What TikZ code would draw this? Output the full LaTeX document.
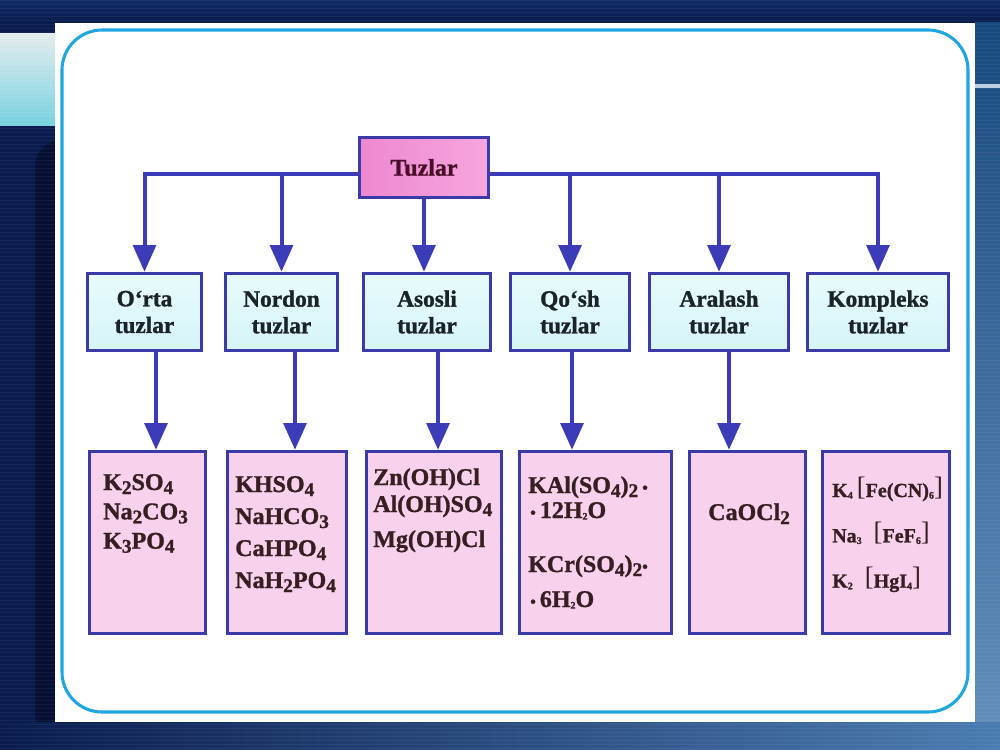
\documentclass[tikz,border=0pt]{standalone}
\usepackage{fontspec}
\setmainfont{Liberation Serif}[BoldFeatures={FakeBold=1.2}]
\usetikzlibrary{arrows.meta,calc}
\pgfdeclarelayer{back}
\pgfdeclarelayer{conn}
\pgfsetlayers{back,conn,main}
\definecolor{navy}{HTML}{0A1C4E}
\definecolor{navydark}{HTML}{060F34}
\definecolor{bandblue}{HTML}{0E2A66}
\definecolor{sideblue}{HTML}{1E5C9E}
\definecolor{frame}{HTML}{1EA6E0}
\definecolor{boxline}{HTML}{3A3AA8}
\definecolor{arrowblue}{HTML}{3C3CB8}
\definecolor{midfill}{HTML}{D6F4F8}
\definecolor{midfilltop}{HTML}{E8FBFC}
\definecolor{botfill}{HTML}{F8D2EC}
\definecolor{tzfillA}{HTML}{EE88D0}
\definecolor{tzfillB}{HTML}{F6A6DE}
\definecolor{midtext}{HTML}{1A2428}
\definecolor{bottext}{HTML}{361E22}
\definecolor{tztext}{HTML}{4A0E2A}
\definecolor{stripA}{HTML}{E4ECEE}
\definecolor{stripB}{HTML}{78D2E0}
\newcommand\chs[1]{\raisebox{-3pt}{\fontsize{14.5}{14.5}\selectfont #1}}
\newcommand\chst[1]{\raisebox{-1.2pt}{\fontsize{7.5}{7.5}\selectfont #1}}
\newcommand\brk[1]{\raisebox{1.5pt}{\fontsize{20}{20}\selectfont\mdseries #1}}
\newcommand\bul{{\fontsize{12}{12}\selectfont •}}
\begin{document}
\begin{tikzpicture}[x=0.75pt,y=-0.75pt,
  arr/.style={draw=arrowblue,line width=3pt,-{Triangle[width=17pt,length=20pt]}},
  midbox/.style={draw=boxline,line width=2.6pt,top color=midfilltop,bottom color=midfill,
    minimum height=57.75pt,align=center,text=midtext,
    font=\fontsize{17.5}{20}\selectfont\bfseries},
  botbox/.style={draw=boxline,line width=2.6pt,fill=botfill,minimum height=136.5pt},
  chem/.style={inner sep=0pt,anchor=base west,text=bottext},
  tzbox/.style={draw=boxline,line width=2.6pt,left color=tzfillA,right color=tzfillB,
    minimum width=96.75pt,minimum height=45pt,text=tztext,
    font=\fontsize{18}{20}\selectfont\bfseries}]
\useasboundingbox (0,0) rectangle (1000,750);
% ---------- background ----------
\begin{pgfonlayer}{back}
\fill[navy] (0,0) rectangle (1000,750);
\fill[top color=bandblue,bottom color=navy] (0,0) rectangle (1000,22);
\fill[top color=stripA,bottom color=stripB] (0,33) rectangle (55,125);
\fill[navydark,rounded corners=20pt] (35,140) rectangle (80,740);
\fill[top color=sideblue!80!black,bottom color=sideblue!70!white] (975,22) rectangle (1000,722);
\fill[white!70!sideblue] (975,84) rectangle (1000,88);
\fill[left color=navy,right color=sideblue!80!white] (0,722) rectangle (1000,750);
\foreach \yy in {0,4,...,748} \draw[white,opacity=0.05,line width=0.6pt] (0,\yy) -- (1000,\yy);
\fill[white] (55,23) rectangle (975,722);
\draw[frame,line width=2.3pt,rounded corners=30pt] (62,30) rectangle (968,712);
\end{pgfonlayer}
% ---------- nodes ----------
\node[tzbox] (tz) at (424,167.5) {Tuzlar};
\coordinate (bus) at (424,174);
\node[midbox,minimum width=85.5pt]  (m1) at (144.5,312) {O‘rta\\tuzlar};
\node[midbox,minimum width=84pt]    (m2) at (281.5,312) {Nordon\\tuzlar};
\node[midbox,minimum width=95.25pt] (m3) at (427,312)   {Asosli\\tuzlar};
\node[midbox,minimum width=89.25pt] (m4) at (570,312)   {Qo‘sh\\tuzlar};
\node[midbox,minimum width=104.25pt](m5) at (719,312)   {Aralash\\tuzlar};
\node[midbox,minimum width=105.75pt](m6) at (878,312)   {Kompleks\\tuzlar};
\node[botbox,minimum width=87pt]    (b1) at (147.5,542.5) {};
\node[botbox,minimum width=89.25pt] (b2) at (287,542.5) {};
\node[botbox,minimum width=101.25pt](b3) at (434,542.5) {};
\node[botbox,minimum width=114pt]   (b4) at (595.5,542.5) {};
\node[botbox,minimum width=87pt]    (b5) at (747.5,542.5) {};
\node[botbox,minimum width=95.25pt] (b6) at (886,542.5) {};
% ---------- texts in the lower boxes ----------
\node[chem] (t1) at (103,490) {\fontsize{18}{22}\selectfont\bfseries
  \begin{tabular}[t]{@{}l@{}}K\chs{2}SO\chs{4}\\Na\chs{2}CO\chs{3}\\K\chs{3}PO\chs{4}\end{tabular}};
\node[chem] (t2) at (235,492) {\fontsize{18}{24}\selectfont\bfseries
  \begin{tabular}[t]{@{}l@{}}KHSO\chs{4}\\NaHCO\chs{3}\\CaHPO\chs{4}\\NaH\chs{2}PO\chs{4}\end{tabular}};
\node[chem] (t3) at (373,485) {\fontsize{18}{20.25}\selectfont\bfseries
  \begin{tabular}[t]{@{}l@{}}Zn(OH)Cl\\Al(OH)SO\chs{4}\\[6pt]Mg(OH)Cl\end{tabular}};
\node[chem] (t4) at (528,493) {\fontsize{18}{18.75}\selectfont\bfseries
  \begin{tabular}[t]{@{}l@{}}KAl(SO\chs{4})\chs{2}\,\bul\\
  \hspace{1.5pt}\bul\,12H\chst{2}O\\[21.75pt]
  KCr(SO\chs{4})\chs{2}\bul\\[7.5pt]
  \hspace{1.5pt}\bul\,6H\chst{2}O\end{tabular}};
\node[chem] (t5) at (708,520) {\fontsize{18}{22}\selectfont\bfseries CaOCl\chs{2}};
\node[chem] (t6) at (832,497) {\fontsize{15}{34}\selectfont\bfseries
  \begin{tabular}[t]{@{}l@{}}K\chst{4}\hspace{3pt}\brk{[}Fe(CN)\chst{6}\brk{]}\\
  Na\chst{3}\hspace{9pt}\brk{[}FeF\chst{6}\brk{]}\\
  K\chst{2}\hspace{9pt}\brk{[}HgI\chst{4}\brk{]}\end{tabular}};
% ---------- connectors ----------
\begin{pgfonlayer}{conn}
\draw[arr] (tz.west |- bus) -| (m1.north);
\draw[arr] (tz.east |- bus) -| (m6.north);
\draw[arr] (bus -| m2.north) -- (m2.north);
\draw[arr] (bus -| m4.north) -- (m4.north);
\draw[arr] (bus -| m5.north) -- (m5.north);
\draw[arr] (tz.south) -- (tz.south |- m3.north);
\draw[arr] (m1.south) ++(11.5,0) coordinate (s1) -- (s1 |- b1.north);
\draw[arr] (m2.south) ++(13.5,0) coordinate (s2) -- (s2 |- b2.north);
\draw[arr] (m3.south) ++(11,0) coordinate (s3) -- (s3 |- b3.north);
\draw[arr] (m4.south) ++(2,0) coordinate (s4) -- (s4 |- b4.north);
\draw[arr] (m5.south) ++(10,0) coordinate (s5) -- (s5 |- b5.north);
\end{pgfonlayer}
\end{tikzpicture}
\end{document}
